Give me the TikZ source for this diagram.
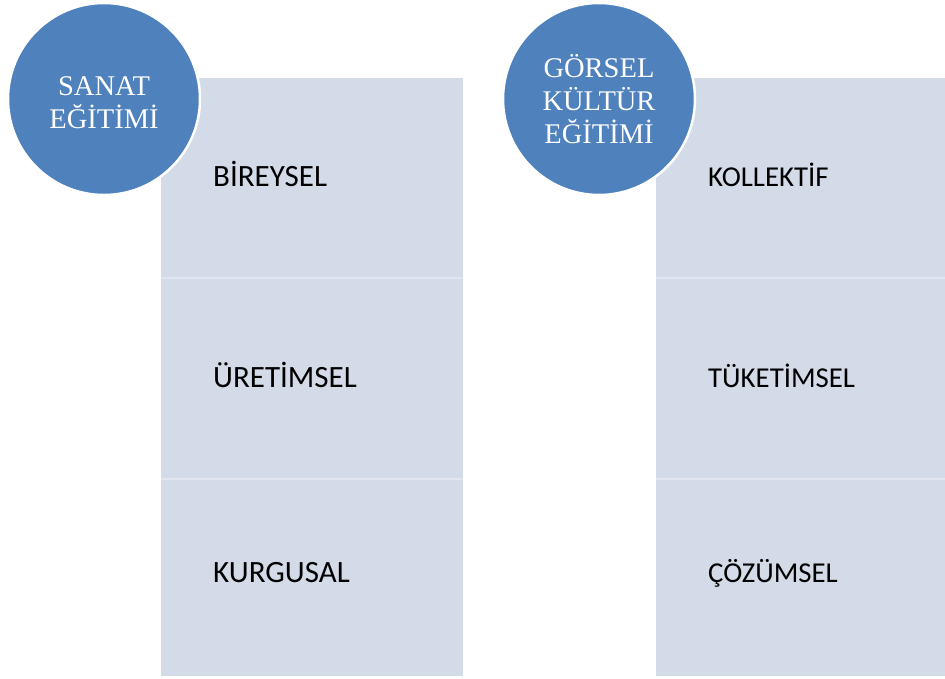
\documentclass[tikz,border=0pt]{standalone}
\usepackage{fontspec}
\setmainfont{Liberation Serif}
\newfontfamily\labfont{Carlito}
\definecolor{circblue}{RGB}{79,129,189}
\definecolor{boxfill}{RGB}{211,218,232}
\definecolor{divline}{RGB}{224,229,239}
\begin{document}
\begin{tikzpicture}[x=1pt,y=-1pt,
  section/.style={fill=boxfill, draw=none, inner sep=0, outer sep=0, anchor=north west},
  bigcirc/.style={circle, fill=circblue, draw=white, line width=2.5pt, minimum size=192pt, inner sep=0},
  circtext/.style={text=white, align=center, font=\fontsize{28.5}{33}\selectfont, inner sep=0},
  lableft/.style={anchor=base west, inner sep=0, font=\labfont\fontsize{31}{33}\selectfont},
  labright/.style={anchor=base west, inner sep=0, font=\labfont\fontsize{28.8}{33}\selectfont}]
\useasboundingbox (0,0) rectangle (945,679);
% left column
\node[section, minimum width=302pt, minimum height=200pt] (l1) at (161,78) {};
\node[section, minimum width=302pt, minimum height=200pt] (l2) at (161,279) {};
\node[section, minimum width=302pt, minimum height=197pt] (l3) at (161,479) {};
\draw[divline, line width=2.5pt] (l1.south west) -- (l1.south east);
\draw[divline, line width=2.5pt] (l2.south west) -- (l2.south east);
% right column
\node[section, minimum width=289pt, minimum height=200pt] (r1) at (656,78) {};
\node[section, minimum width=289pt, minimum height=200pt] (r2) at (656,279) {};
\node[section, minimum width=289pt, minimum height=197pt] (r3) at (656,479) {};
\draw[divline, line width=2.5pt] (r1.south west) -- (r1.south east);
\draw[divline, line width=2.5pt] (r2.south west) -- (r2.south east);
% circles
\node[bigcirc] (c1) at (104,99) {};
\node[circtext] (t1) at (104,103) {SANAT\\EĞİTİMİ};
\node[bigcirc] (c2) at (599,99) {};
\node[circtext] (t2) at (599,99) {GÖRSEL\\KÜLTÜR\\EĞİTİMİ};
% labels
\node[lableft] (a1) at (213,187) {BİREYSEL};
\node[lableft] (a2) at (213,387) {ÜRETİMSEL};
\node[lableft] (a3) at (213,582) {KURGUSAL};
\node[labright] (b1) at (708,187) {KOLLEKTİF};
\node[labright] (b2) at (708,387) {TÜKETİMSEL};
\node[labright] (b3) at (708,582) {ÇÖZÜMSEL};
\end{tikzpicture}
\end{document}
